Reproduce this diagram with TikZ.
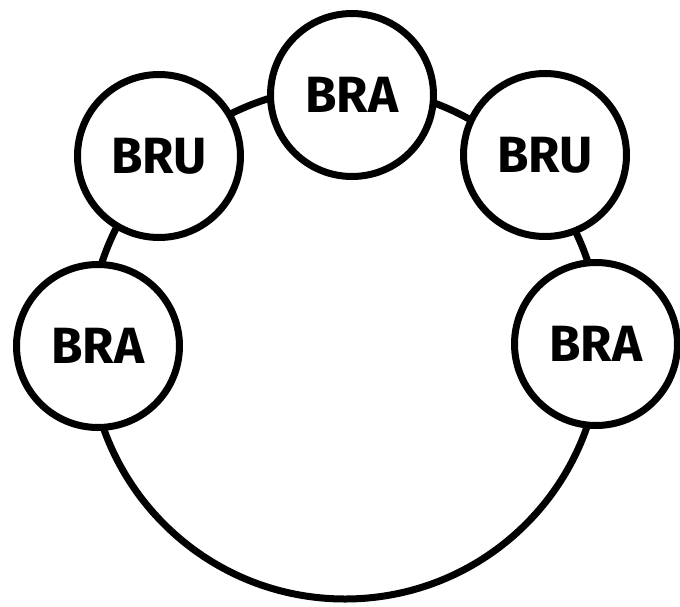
\documentclass[tikz,border=0pt]{standalone}
\usepackage{fontspec}
\setmainfont{Fira Sans}
\tikzset{
	bubble/.style={draw, circle, fill=white, line width=1.4mm, minimum size=3.26cm, inner sep=0pt, font=\bfseries\fontsize{29}{30}\selectfont}
}

\begin{document}
\begin{tikzpicture}
		%%%%% START %%%%%
		\useasboundingbox (-6.9, -5.26) rectangle (6.7, 6.86);
		
		\draw[line width=1.4mm] (0, 0) circle (5.12);
		
		\node[bubble] (braTop) at (0.14, 4.96) {BRA};
		\node[bubble] (bruLeft) at (-3.72, 3.74) {BRU};
		\node[bubble] (bruRight) at (4.0, 3.76) {BRU};
		\node[bubble] (braLeft) at (-4.94, -0.06) {BRA};
		\node[bubble] (braRight) at (5.02, -0.02) {BRA};
		
		%%%%% END %%%%%
	\end{tikzpicture}
\end{document}
